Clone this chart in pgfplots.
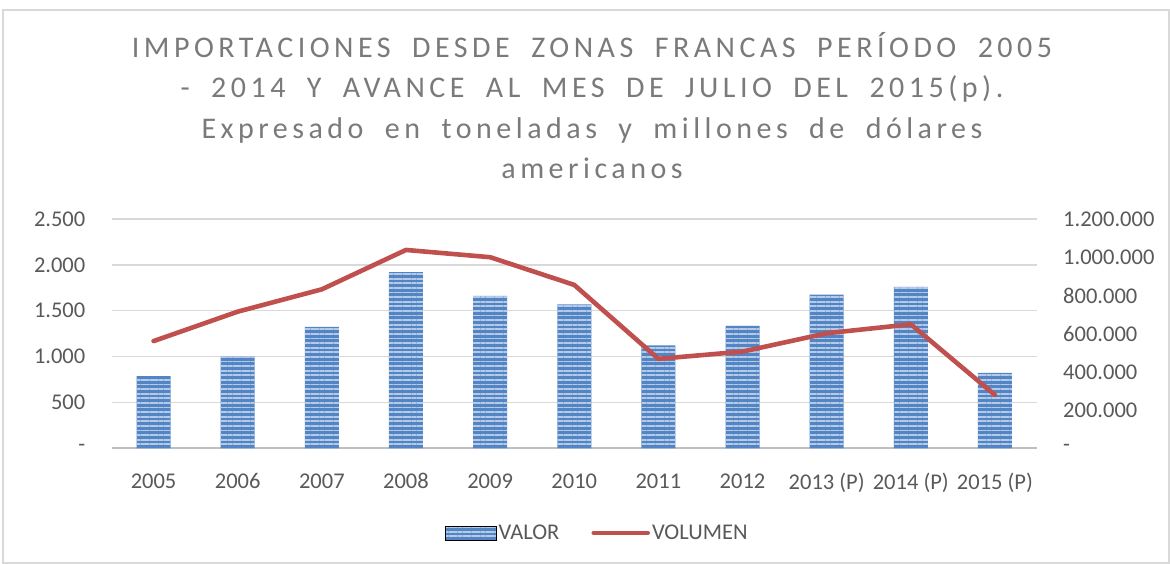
\documentclass[border=0pt]{standalone}
\usepackage{fontspec}
\setmainfont{Carlito}
\newfontfamily\titlefont{Carlito}[LetterSpace=15,WordSpace=1.9]
\usepackage{pgfplots}
\pgfplotsset{compat=1.18}
\usetikzlibrary{patterns.meta}
\definecolor{barblue}{HTML}{5285C4}
\definecolor{barlight}{HTML}{B6CAE8}
\definecolor{linered}{HTML}{C0504D}
\definecolor{txt}{HTML}{595959}
\definecolor{ttl}{HTML}{7A7A7A}
\definecolor{gridc}{HTML}{D9D9D9}
\definecolor{axisc}{HTML}{BFBFBF}
\begin{document}
\begin{tikzpicture}[x=1bp,y=1bp]
\useasboundingbox (0,0) rectangle (1170,564);
\draw[gridc, line width=1.2bp] (3,1) rectangle (1169,554);
\node[text=ttl, align=center, font={\titlefont\fontsize{30bp}{40.3bp}\selectfont}, anchor=north] at (592,535)
{IMPORTACIONES DESDE ZONAS FRANCAS PERÍODO 2005\\- 2014 Y AVANCE AL MES DE JULIO DEL 2015(p).\\Expresado en toneladas y millones de dólares\\americanos};
\begin{axis}[
  at={(111.5bp,115.7bp)}, anchor=south west,
  width=925.5bp, height=229.3bp, scale only axis,
  xmin=-0.5, xmax=10.5, ymin=0, ymax=2500,
  xtick={0,...,10},
  xticklabels={2005,2006,2007,2008,2009,2010,2011,2012,2013 (P),2014 (P),2015 (P)},
  ytick={0,500,1000,1500,2000,2500},
  yticklabels={-,500,1.000,1.500,2.000,2.500},
  axis x line*=bottom, axis y line*=left,
  y axis line style={draw=none},
  x axis line style={draw=axisc, line width=2.2bp, -},
  tick style={draw=none},
  ymajorgrids, grid style={draw=gridc, line width=1.3bp},
  ticklabel style={font=\fontsize{22.5bp}{27bp}\selectfont, text=txt},
  yticklabel style={inner sep=0pt, xshift=-26bp},
  xticklabel style={inner sep=0pt, yshift=-25bp},
  clip=false,
]
\addplot[ybar, bar width=34bp, draw=none, fill=barblue,
  postaction={pattern={Lines[angle=0,distance=4.6bp,line width=1.8bp]}, pattern color=barlight}]
  coordinates {(0,786) (1,1000) (2,1323) (3,1922) (4,1661) (5,1570) (6,1123) (7,1334) (8,1675) (9,1759) (10,821)};
\end{axis}
\begin{axis}[
  at={(111.5bp,115.7bp)}, anchor=south west,
  width=925.5bp, height=229.3bp, scale only axis,
  xmin=-0.5, xmax=10.5, ymin=0, ymax=1200000,
  axis x line=none, axis y line*=right,
  y axis line style={draw=none},
  tick style={draw=none},
  scaled y ticks=false,
  ytick={0,200000,400000,600000,800000,1000000,1200000},
  yticklabels={-,200.000,400.000,600.000,800.000,1.000.000,1.200.000},
  ticklabel style={font=\fontsize{22.5bp}{27bp}\selectfont, text=txt},
  yticklabel style={inner sep=0pt, xshift=26bp},
  legend style={draw=none, at={(0.525,-0.369)}, anchor=center, legend columns=2,
    font=\fontsize{22.5bp}{27bp}\selectfont, text=txt, inner sep=0pt,
    /tikz/every even column/.append style={column sep=30bp}},
  clip=false,
]
\addlegendimage{legend image code/.code={
  \fill[barblue] (-4bp,-7bp) rectangle (47bp,7bp);
  \path[pattern={Lines[angle=0,distance=4.6bp,line width=1.8bp]}, pattern color=barlight] (-4bp,-7bp) rectangle (47bp,7bp);}}
\addlegendentry{VALOR}
\addplot[linered, line width=4.6bp, line cap=round, line join=round,
  legend image code/.code={\draw[linered, line width=4.6bp, line cap=round] (0bp,0bp) -- (54bp,0bp);}]
  coordinates {(0,561000) (1,715000) (2,832000) (3,1038000) (4,1000000) (5,855000) (6,468000) (7,506000) (8,602000) (9,649000) (10,279000)};
\addlegendentry{VOLUMEN}
\end{axis}
\end{tikzpicture}
\end{document}
